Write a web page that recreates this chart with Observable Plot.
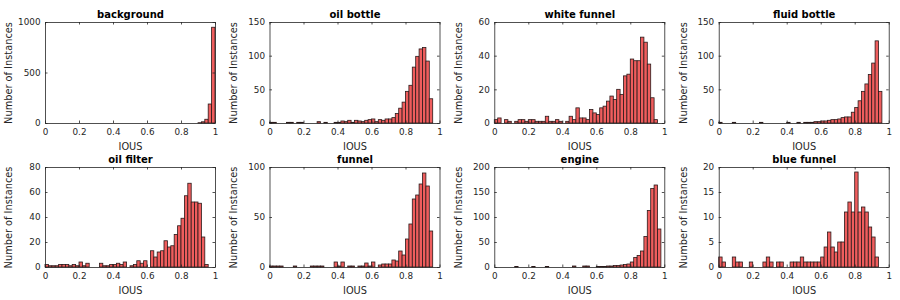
<!DOCTYPE html>
<html><head><meta charset="utf-8">
<script src="https://cdn.jsdelivr.net/npm/d3@7"></script>
<script src="https://cdn.jsdelivr.net/npm/@observablehq/plot@0.6"></script>
<style>
body{margin:0;background:#fff;}
#chart{position:relative;width:900px;height:300px;font-family:"DejaVu Sans",sans-serif;}
#chart svg{position:absolute;overflow:visible;}
</style></head><body><div id="chart"></div>
<script>
// Histogram counts, 50 bins of width 0.02 over IOUS in [0, 1]
const background = [0,0,0,0,0,0,0,0,0,0, 0,0,0,0,0,0,0,0,0,0, 0,0,0,0,0,0,0,0,0,0, 0,0,0,0,0,0,0,0,0,0, 0,0,0,0,0,3,12,37,188,948];
const oilBottle = [1,1,0,0,0,1,1,0,1,1, 0,0,0,0,2,0,1,0,0,1, 1,3,2,4,1,4,3,2,4,5, 6,2,5,4,6,6,8,14,22,31, 47,56,83,99,110,112,92,36,0,0];
const whiteFunnel = [2,3,0,2,1,0,1,2,2,1, 2,2,1,1,1,4,1,1,2,1, 0,1,4,2,9,3,3,2,8,6, 5,9,10,13,16,14,20,17,28,29, 38,37,37,51,48,35,15,2,0,0];
const fluidBottle = [1,0,0,0,1,0,0,0,0,0, 0,0,1,0,0,0,0,0,0,0, 1,0,0,1,0,1,1,1,2,2, 3,3,4,5,5,6,8,9,9,16, 23,33,47,58,72,89,122,47,0,0];
const oilFilter = [2,1,1,1,2,2,2,1,2,1, 4,1,3,0,0,0,3,1,1,2, 2,3,2,4,0,1,2,5,3,5, 0,13,8,12,13,21,16,17,26,33, 39,57,67,52,52,51,24,2,0,0];
const funnel = [1,1,1,1,0,0,0,1,0,0, 0,0,1,1,1,1,0,0,0,5, 1,5,0,1,1,0,1,1,4,1, 5,0,2,3,3,3,7,6,16,12, 28,43,68,72,83,94,81,36,0,0];
const engine = [0,0,0,0,0,0,1,0,0,0, 0,1,0,0,0,1,0,0,0,0, 0,0,0,2,0,0,2,2,0,0, 1,1,1,2,2,3,3,4,5,6, 10,19,23,32,61,113,157,164,76,0];
const blueFunnel = [2,1,0,0,2,1,1,0,0,1, 0,0,0,1,2,1,0,1,1,0, 0,1,1,1,2,1,1,1,1,1, 2,4,7,4,3,5,5,11,13,11, 19,11,12,11,8,6,2,0,0,0];

const titles = ["background","oil bottle","white funnel","fluid bottle","oil filter","funnel","engine","blue funnel"];
const series = [background, oilBottle, whiteFunnel, fluidBottle, oilFilter, funnel, engine, blueFunnel];
const yMaxes = [1000, 150, 60, 150, 80, 100, 200, 20];
const yTickSets = [[0,500,1000],[0,50,100,150],[0,20,40,60],[0,50,100,150],[0,20,40,60,80],[0,50,100],[0,50,100,150,200],[0,5,10,15,20]];
const xTicks = [0, 0.2, 0.4, 0.6, 0.8, 1];
const binWidth = 0.02;
const xLabel = "IOUS";
const yLabel = "Number of Instances";

const colLeft = [45, 44.5, 44.3, 43.7];
const rowTop = [22, 17];
const rowBottom = [27, 33];
const PW = 170, W = 225, H = 150;
const axisColor = "#262626";
const barFill = "#ef5d5d";
const barStroke = "#2a1a1a";
const tickLen = 2.5;

const chart = document.getElementById("chart");
series.forEach((counts, i) => {
  const row = Math.floor(i / 4), col = i % 4;
  const ml = colLeft[col], mr = W - ml - PW, mt = rowTop[row], mb = rowBottom[row];
  const ph = H - mt - mb;
  const bins = counts.map((c, k) => ({x1: k * binWidth, x2: (k + 1) * binWidth, n: c})).filter(d => d.n > 0);
  const yTicks = yTickSets[i];
  const svg = Plot.plot({
    width: W, height: H,
    marginLeft: ml, marginRight: mr, marginTop: mt, marginBottom: mb,
    style: {fontFamily: "DejaVu Sans", color: axisColor, background: "transparent", overflow: "visible"},
    x: {domain: [0, 1]},
    y: {domain: [0, yMaxes[i]]},
    marks: [
      Plot.rectY(bins, {x1: "x1", x2: "x2", y: "n", fill: barFill, stroke: barStroke, strokeWidth: 0.8}),
      Plot.frame({stroke: axisColor, strokeWidth: 0.8}),
      Plot.tickX(xTicks, {x: d => d, insetTop: ph - tickLen, stroke: axisColor, strokeWidth: 0.8}),
      Plot.tickX(xTicks, {x: d => d, insetBottom: ph - tickLen, stroke: axisColor, strokeWidth: 0.8}),
      Plot.tickY(yTicks, {y: d => d, insetRight: PW - tickLen, stroke: axisColor, strokeWidth: 0.8}),
      Plot.tickY(yTicks, {y: d => d, insetLeft: PW - tickLen, stroke: axisColor, strokeWidth: 0.8}),
      Plot.axisX(xTicks, {tickSize: 0, tickPadding: 5, fontSize: 8.8, tickFormat: d => String(d), label: null, fill: axisColor}),
      Plot.axisY(yTicks, {tickSize: 0, tickPadding: 5, fontSize: 8.8, tickFormat: d => String(d), label: null, fill: axisColor}),
      Plot.text([xLabel], {frameAnchor: "bottom", lineAnchor: "top", dy: 19.5, fontSize: 9.8, fill: axisColor}),
      Plot.text([yLabel], {frameAnchor: "left", textAnchor: "middle", lineAnchor: "top", rotate: -90, dx: -(ml - 5), fontSize: 9.8, fill: axisColor}),
      Plot.text([titles[i]], {frameAnchor: "top", lineAnchor: "top", dy: -12, fontSize: 10, fontWeight: "bold", fill: "#000"})
    ]
  });
  svg.style.left = (col * W) + "px";
  svg.style.top = (row * H) + "px";
  chart.appendChild(svg);
});
</script>
</body></html>
